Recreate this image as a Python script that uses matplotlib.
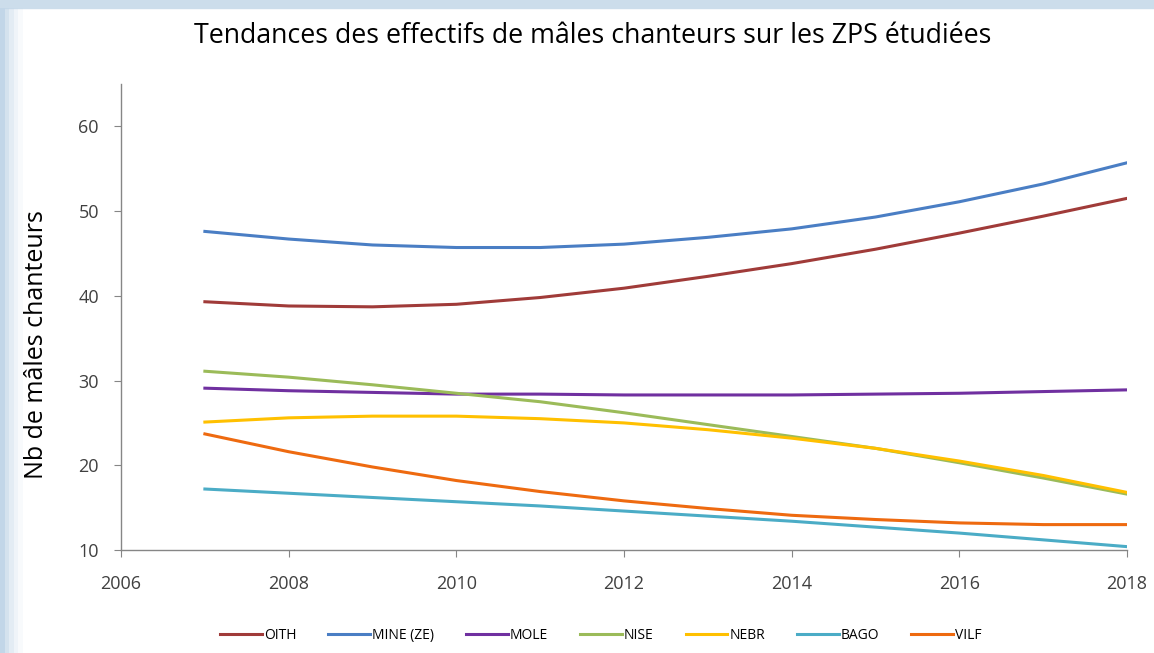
import matplotlib
matplotlib.use('Agg')
import matplotlib.pyplot as plt
from matplotlib.patches import Rectangle

# Trend values, one value per year
years = [2007, 2008, 2009, 2010, 2011, 2012, 2013, 2014, 2015, 2016, 2017, 2018]
oith = [39.3, 38.8, 38.7, 39.0, 39.8, 40.9, 42.3, 43.8, 45.5, 47.4, 49.4, 51.5]
mine = [47.6, 46.7, 46.0, 45.7, 45.7, 46.1, 46.9, 47.9, 49.3, 51.1, 53.2, 55.7]
mole = [29.1, 28.8, 28.6, 28.4, 28.4, 28.3, 28.3, 28.3, 28.4, 28.5, 28.7, 28.9]
nise = [31.1, 30.4, 29.5, 28.5, 27.5, 26.2, 24.8, 23.4, 22.0, 20.3, 18.5, 16.6]
nebr = [25.1, 25.6, 25.8, 25.8, 25.5, 25.0, 24.2, 23.2, 22.0, 20.5, 18.8, 16.8]
bago = [17.2, 16.7, 16.2, 15.7, 15.2, 14.6, 14.0, 13.4, 12.7, 12.0, 11.2, 10.4]
vilf = [23.7, 21.6, 19.8, 18.2, 16.9, 15.8, 14.9, 14.1, 13.6, 13.2, 13.0, 13.0]

names = ['OITH', 'MINE (ZE)', 'MOLE', 'NISE', 'NEBR', 'BAGO', 'VILF']
colors = ['#A03B39', '#4A7EC4', '#7030A0', '#9BBB59', '#FFC000', '#4BACC6', '#EE6A10']
series = [oith, mine, mole, nise, nebr, bago, vilf]

plt.rcParams['font.family'] = ['Open Sans', 'DejaVu Sans']

fig = plt.figure(figsize=(11.54, 6.53), dpi=100)
fig.patch.set_facecolor('white')
# light blue slide border (top strip and a fading left edge)
fig.patches.append(Rectangle((0, 0.987), 1, 0.013, transform=fig.transFigure,
                             color='#CCDDEB', zorder=0))
for i, a in enumerate([1.0, 0.7, 0.45, 0.25, 0.1]):
    fig.patches.append(Rectangle((i * 0.004, 0), 0.004, 0.987, transform=fig.transFigure,
                                 color='#C2D6E8', alpha=a, lw=0, zorder=0))

ax = fig.add_axes([0.1049, 0.1577, 0.8717, 0.7137])

for name, vals, c in zip(names, series, colors):
    ax.plot(years, vals, color=c, linewidth=2.2, label=name)

ax.set_xlim(2006, 2018)
ax.set_ylim(10, 65)
ax.set_xticks(range(2006, 2019, 2))
ax.set_yticks(range(10, 61, 10))

for s in ['top', 'right']:
    ax.spines[s].set_visible(False)
for s in ['left', 'bottom']:
    ax.spines[s].set_color('#868686')
    ax.spines[s].set_linewidth(1.0)
ax.tick_params(colors='#868686', length=5, labelsize=13, labelcolor='#404040')
ax.tick_params(axis='x', pad=13)
ax.tick_params(axis='y', pad=11)

ax.set_ylabel('Nb de mâles chanteurs', fontsize=18, color='black')
ax.yaxis.set_label_coords(-0.072, 0.44)
fig.text(0.514, 0.945, 'Tendances des effectifs de mâles chanteurs sur les ZPS étudiées',
         ha='center', va='center', fontsize=19.3)

leg = ax.legend(loc='center', bbox_to_anchor=(0.477, -0.183), ncol=7, frameon=False,
                fontsize=10, handlelength=3.0, handletextpad=0.15, columnspacing=2.3)

fig.savefig('out.png', dpi=100, facecolor=fig.get_facecolor())
